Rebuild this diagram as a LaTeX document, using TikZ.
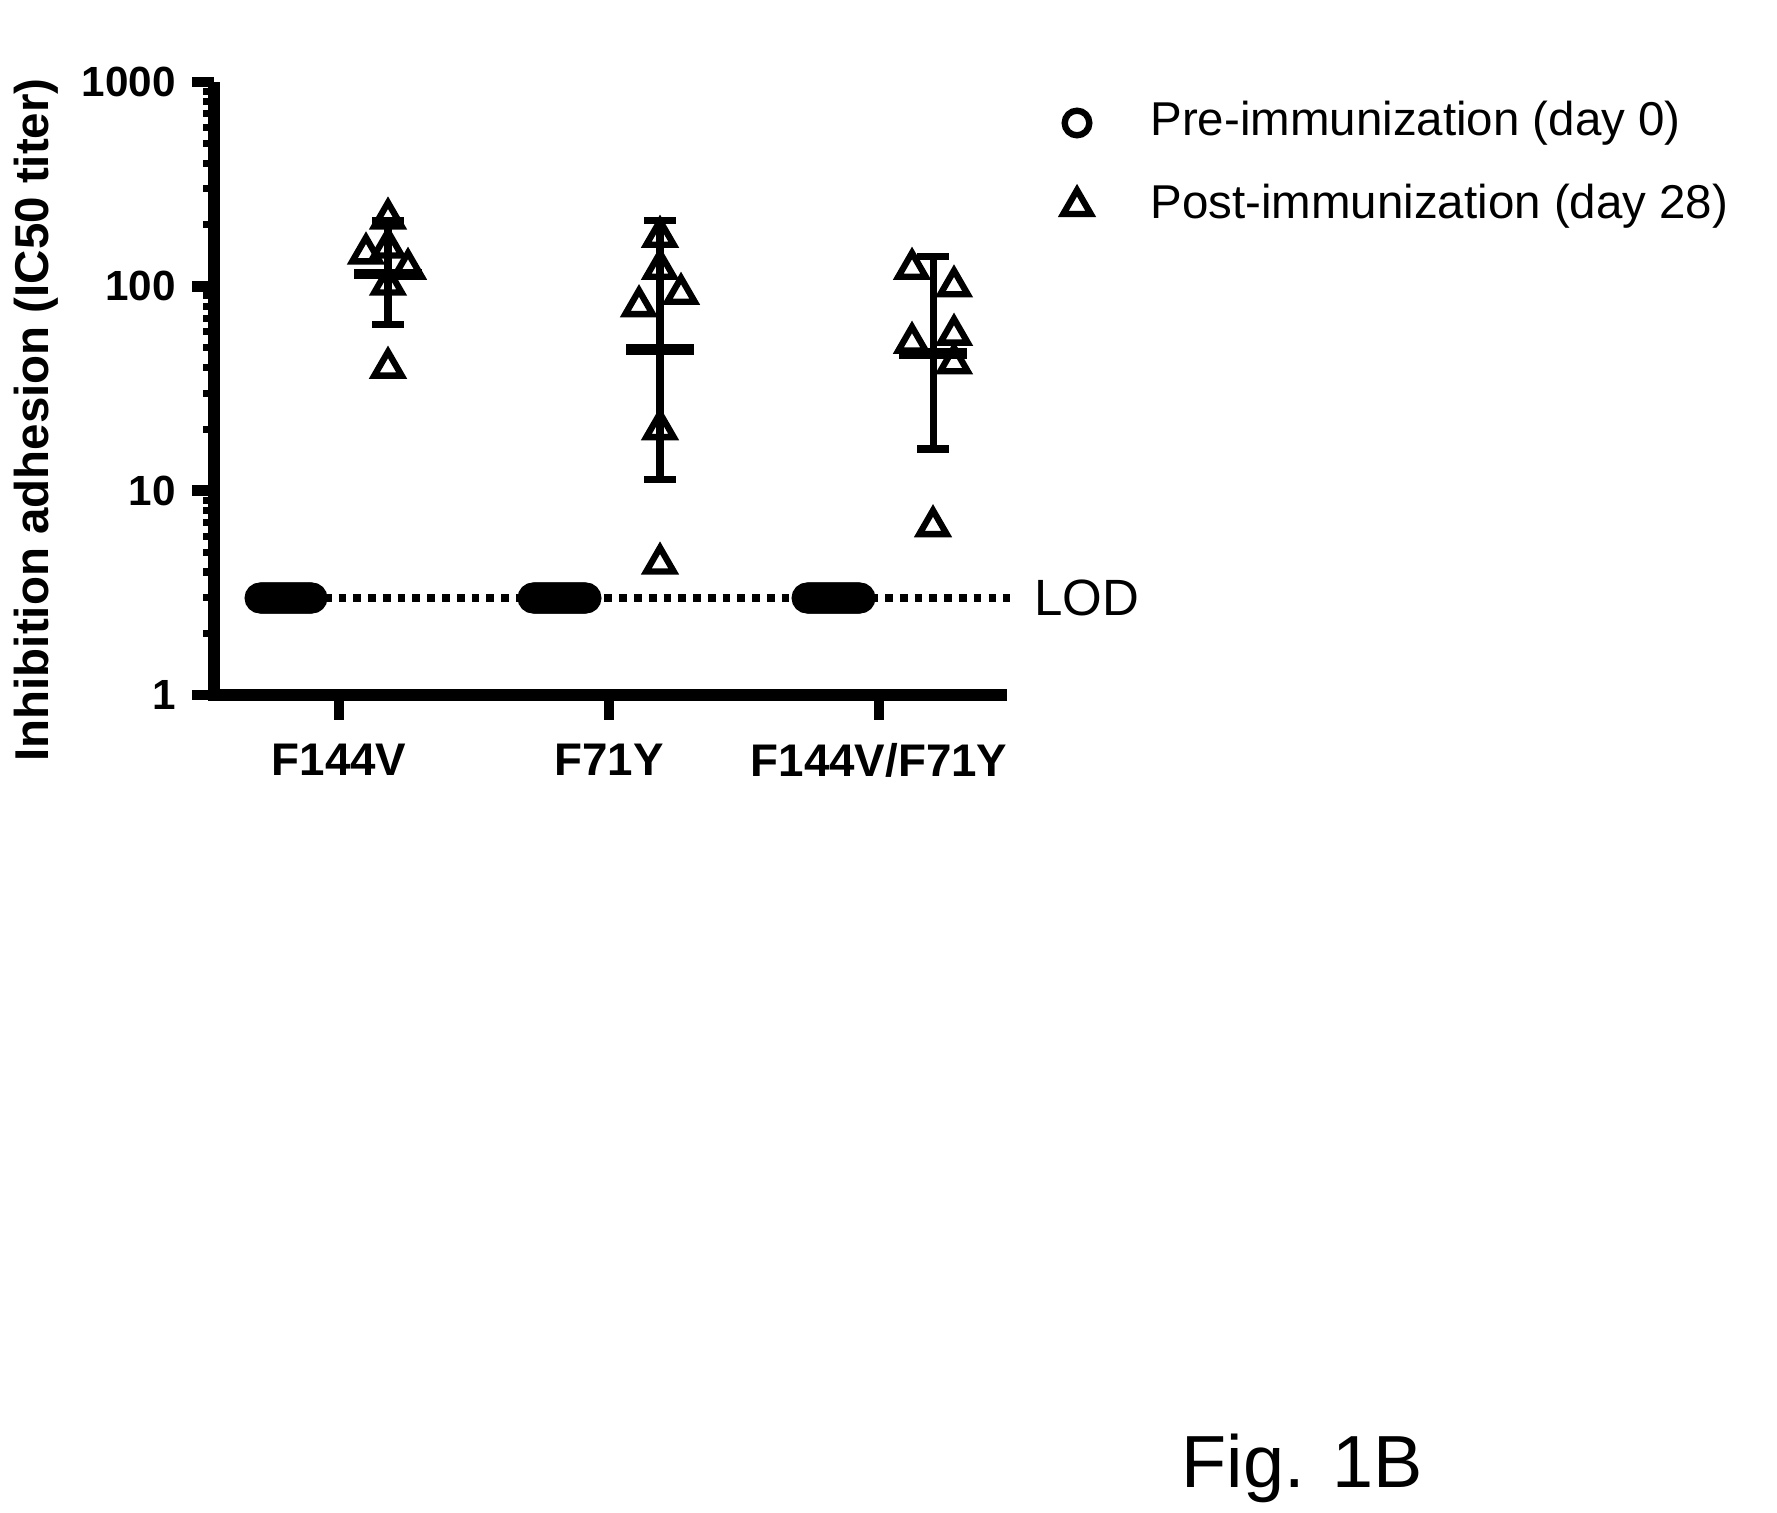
\documentclass[tikz,border=0pt]{standalone}
\usepackage{fontspec}
\setmainfont{Liberation Sans}
\tikzset{
  tri/.style={draw, line width=1.8pt, regular polygon, regular polygon sides=3, inner sep=0pt, minimum size=9pt},
  dot/.style={draw, line width=1.8pt, circle, inner sep=0pt, minimum size=7pt},
  ticklbl/.style={font=\fontsize{12}{14}\selectfont\bfseries},
}
\usetikzlibrary{shapes.geometric}
\begin{document}
\begin{tikzpicture}[x=0.01cm, y=-0.01cm]
  \useasboundingbox (0,0) rectangle (1777,1512);
  % axes
  \draw[line width=3.2pt] (214,82) -- (214,695) -- (1007,695);
  \foreach \d/\lbl in {0/1,1/10,2/100,3/1000} {
    \draw[line width=3pt] (192,695-204.3*\d) -- (214,695-204.3*\d);
    \node[ticklbl, anchor=east] (y\d) at (188,695-204.3*\d) {\lbl};
  }
  \foreach \d in {0,1,2} \foreach \m in {2,...,9}
    \draw[line width=2pt] (203,{695-204.3*(\d+log10(\m))}) -- (214,{695-204.3*(\d+log10(\m))});
  \foreach \x/\lbl/\nm in {339/F144V/ga,609/F71Y/gb,879/F144V\slash F71Y/gc} {
    \draw[line width=3pt] (\x,695) -- (\x,720);
    \node[ticklbl, font=\fontsize{13}{15}\selectfont\bfseries] (\nm) at (\x,760) {\lbl};
  }
  \node[rotate=90, font=\fontsize{13.5}{16}\selectfont\bfseries] (ylab) at (36,420) {Inhibition adhesion (IC50 titer)};
  % LOD line
  \draw[line width=2.2pt, dotted] (250,598) -- (1010,598);
  \node[anchor=west, font=\fontsize{14.5}{17}\selectfont] (lod) at (1022,598) {LOD};
  % pre-immunization circles
  \foreach \x in {260,...,312} \node[dot] at (\x,598) {};
  \foreach \x in {533,...,586} \node[dot] at (\x,598) {};
  \foreach \x in {807,...,860} \node[dot] at (\x,598) {};
  % post-immunization means and error bars
  \foreach \x/\lo/\mn/\hi in {388/65/115/210, 660/11.3/49/210, 933/16/47/140} {
    \draw[line width=2pt] (\x,{695-204.3*log10(\lo)}) -- (\x,{695-204.3*log10(\hi)});
    \draw[line width=2pt] (\x-16,{695-204.3*log10(\lo)}) -- (\x+16,{695-204.3*log10(\lo)});
    \draw[line width=2pt] (\x-16,{695-204.3*log10(\hi)}) -- (\x+16,{695-204.3*log10(\hi)});
    \draw[line width=3pt] (\x-34,{695-204.3*log10(\mn)}) -- (\x+34,{695-204.3*log10(\mn)});
  }
  % post-immunization triangles
  \foreach \x/\v in {388/215, 388/155, 366/145, 408/122, 388/102, 388/40, 660/175, 660/122, 639/80, 681/92, 660/20, 660/4.4,
                     912/122, 954/100, 912/53, 954/58, 954/42, 933/6.7}
    \node[tri] at (\x,{695-204.3*log10(\v)}) {};
  % legend
  \node[dot] (kpre) at (1077,123) {};
  \node[anchor=west, font=\fontsize{13.5}{16}\selectfont] (lpre) at (1138,123) {Pre-immunization (day 0)};
  \node[tri] (kpost) at (1077,206) {};
  \node[anchor=west, font=\fontsize{13.5}{16}\selectfont] (lpost) at (1138,206) {Post-immunization (day 28)};
  \node[font=\fontsize{21}{25}\selectfont] (fig) at (1302,1468) {Fig. 1B};
\end{tikzpicture}
\end{document}
